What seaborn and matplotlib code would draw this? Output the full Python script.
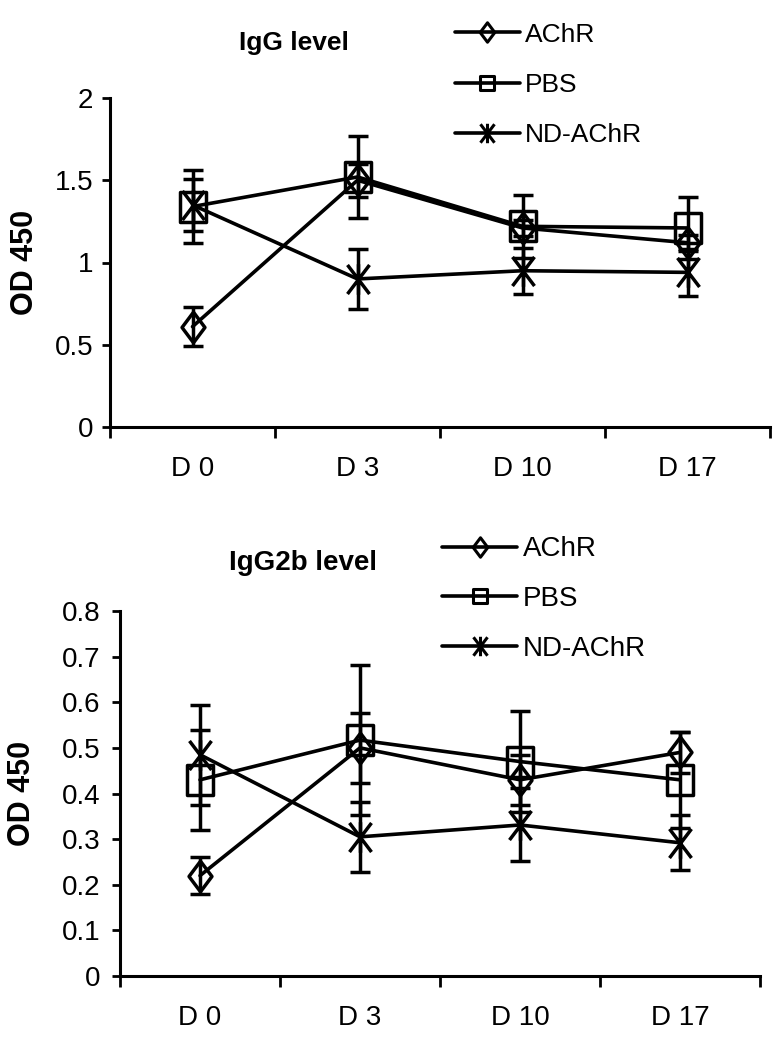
import numpy as np
import pandas as pd
import matplotlib
matplotlib.use("Agg")
import matplotlib.pyplot as plt
from matplotlib.path import Path
from matplotlib.lines import Line2D
import seaborn as sns

days = ["D 0", "D 3", "D 10", "D 17"]
groups = ["AChR", "PBS", "ND-AChR"]

# IgG level (OD 450)
igg_achr = [0.61, 1.50, 1.21, 1.12]
igg_achr_err = [0.12, 0.10, 0.05, 0.05]
igg_pbs = [1.34, 1.52, 1.22, 1.21]
igg_pbs_err = [0.22, 0.25, 0.19, 0.19]
igg_nd = [1.35, 0.90, 0.95, 0.94]
igg_nd_err = [0.16, 0.18, 0.14, 0.145]

# IgG2b level (OD 450)
igg2b_achr = [0.22, 0.50, 0.43, 0.49]
igg2b_achr_err = [0.04, 0.076, 0.055, 0.045]
igg2b_pbs = [0.43, 0.517, 0.47, 0.43]
igg2b_pbs_err = [0.11, 0.165, 0.11, 0.105]
igg2b_nd = [0.485, 0.305, 0.331, 0.292]
igg2b_nd_err = [0.11, 0.077, 0.08, 0.06]

sns.set_theme(style="white")
plt.rcParams['font.family'] = ['Liberation Sans', 'DejaVu Sans']
for k in ["text.color", "axes.labelcolor", "xtick.color", "ytick.color", "axes.edgecolor"]:
    plt.rcParams[k] = "black"

# custom markers
diamond = Path([(0, 1), (0.75, 0), (0, -1), (-0.75, 0), (0, 1)],
               [Path.MOVETO, Path.LINETO, Path.LINETO, Path.LINETO, Path.CLOSEPOLY])
tall_square = Path([(-0.82, -1), (0.82, -1), (0.82, 1), (-0.82, 1), (-0.82, -1)],
                   [Path.MOVETO, Path.LINETO, Path.LINETO, Path.LINETO, Path.CLOSEPOLY])
square = Path([(-1, -1), (1, -1), (1, 1), (-1, 1), (-1, -1)],
              [Path.MOVETO, Path.LINETO, Path.LINETO, Path.LINETO, Path.CLOSEPOLY])
aster = Path([(0, -1), (0, 1), (-0.72, -0.95), (0.72, 0.95), (-0.72, 0.95), (0.72, -0.95)],
             [Path.MOVETO, Path.LINETO, Path.MOVETO, Path.LINETO, Path.MOVETO, Path.LINETO])
marker_map = {"AChR": diamond, "PBS": tall_square, "ND-AChR": aster}
legend_markers = {"AChR": (diamond, 14), "PBS": (square, 10.5), "ND-AChR": (aster, 14)}


def make_df(a, p, n, ea, ep, en):
    rows = []
    for g, vals, errs in zip(groups, [a, p, n], [ea, ep, en]):
        for i, (v, e) in enumerate(zip(vals, errs)):
            rows.append({"pos": i, "day": days[i], "group": g, "od": v, "err": e})
    return pd.DataFrame(rows)


fig = plt.figure(figsize=(7.77, 10.49), dpi=100)
ax1 = fig.add_axes([110 / 777, 1 - 427 / 1049, 660 / 777, (427 - 98) / 1049])
ax2 = fig.add_axes([120 / 777, 1 - 976 / 1049, 640 / 777, (976 - 611) / 1049])

configs = [
    dict(ax=ax1, df=make_df(igg_achr, igg_pbs, igg_nd, igg_achr_err, igg_pbs_err, igg_nd_err),
         ylim=(0, 2), yt=[0, 0.5, 1, 1.5, 2], ytl=["0", "0.5", "1", "1.5", "2"],
         ylx=-0.106, xfs=20, yfs=20, ypad=6),
    dict(ax=ax2, df=make_df(igg2b_achr, igg2b_pbs, igg2b_nd, igg2b_achr_err, igg2b_pbs_err, igg2b_nd_err),
         ylim=(0, 0.8), yt=list(np.round(np.arange(0, 0.81, 0.1), 1)),
         ytl=["0"] + [f"{v:.1f}" for v in np.arange(0.1, 0.81, 0.1)],
         ylx=-0.130, xfs=20, yfs=20, ypad=8),
]

for c in configs:
    ax, df = c["ax"], c["df"]
    for g in groups:
        sub = df[df.group == g]
        ax.errorbar(sub["pos"], sub["od"], yerr=sub["err"], fmt="none", ecolor="black",
                    elinewidth=2.5, capsize=7.5, capthick=2.5, zorder=2)
    sns.lineplot(data=df, x="pos", y="od", style="group", markers=marker_map, dashes=False,
                 color="black", linewidth=2.6, markersize=22, markeredgewidth=2.5,
                 markeredgecolor="black", markerfacecolor="none", legend=False, ax=ax,
                 sort=False, zorder=3)
    ax.set_xlim(-0.5, 3.5)
    ax.set_ylim(*c["ylim"])
    ax.set_xticks(range(4))
    ax.set_xticklabels(days, fontsize=c["xfs"])
    ax.set_xticks(np.arange(-0.5, 3.6, 1), minor=True)
    ax.tick_params(axis="x", which="major", length=0, pad=21)
    ax.tick_params(axis="x", which="minor", length=8, width=2, direction="out", bottom=True)
    ax.set_yticks(c["yt"])
    ax.set_yticklabels(c["ytl"], fontsize=c["yfs"])
    ax.tick_params(axis="y", which="major", length=6, width=2, direction="out", left=True, pad=c["ypad"])
    ax.set_xlabel("")
    ax.set_ylabel("OD 450", fontsize=22, fontweight="bold")
    ax.yaxis.set_label_coords(c["ylx"], 0.5)
    sns.despine(ax=ax)
    for s in ["left", "bottom"]:
        ax.spines[s].set_linewidth(2.2)
        ax.spines[s].set_color("black")
    ax.grid(False)

fig.text(294 / 777, 1 - 43 / 1049, "IgG level", ha="center", va="center", fontsize=19, fontweight="bold")
fig.text(303 / 777, 1 - 563 / 1049, "IgG2b level", ha="center", va="center", fontsize=20, fontweight="bold")

handles = [Line2D([], [], color="black", lw=2.6, marker=legend_markers[g][0],
                  markersize=legend_markers[g][1], markerfacecolor="none",
                  markeredgecolor="black", markeredgewidth=2.2)
           for g in groups]
for ymid, xl, fs, hl, ls in [(85, 455, 19, 2.46, 1.0), (599, 442, 20, 2.7, 0.85)]:
    fig.legend(handles, groups, loc="center left", bbox_to_anchor=(xl / 777, 1 - ymid / 1049),
               frameon=False, fontsize=fs, handlelength=hl, handletextpad=0.2,
               labelspacing=ls, borderpad=0, borderaxespad=0)

fig.savefig("out.png", dpi=100)
